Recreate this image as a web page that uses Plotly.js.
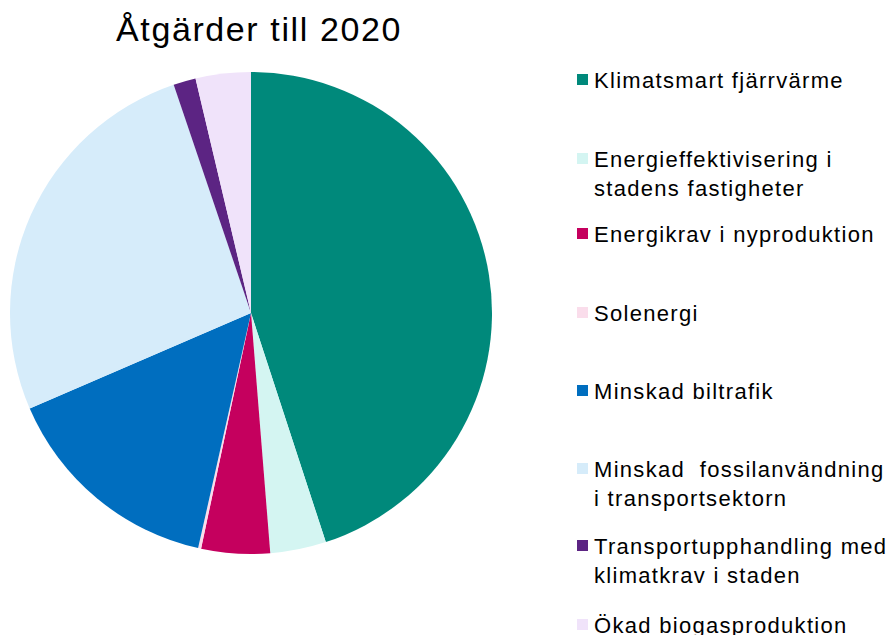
<!DOCTYPE html>
<html>
<head>
<meta charset="utf-8">
<script src="https://cdn.plot.ly/plotly-3.0.1.min.js"></script>
<style>
html,body{margin:0;padding:0;background:#fff;}
#chart{width:893px;height:635px;}
text.annotation-text{letter-spacing:1.3px;}
text.gtitle{letter-spacing:1.6px;}
</style>
</head>
<body>
<div id="chart"></div>
<script>
const categories = [
  "Klimatsmart fjärrvärme",
  "Energieffektivisering i<br>stadens fastigheter",
  "Energikrav i nyproduktion",
  "Solenergi",
  "Minskad biltrafik",
  "Minskad  fossilanvändning<br>i transportsektorn",
  "Transportupphandling med<br>klimatkrav i staden",
  "Ökad biogasproduktion"
];
const values = [45.0, 3.75, 4.6, 0.2, 15.0, 26.3, 1.5, 3.7];
const colors = ["#00897B", "#D4F5F2", "#C5005E", "#FADDEB", "#006EBF", "#D6ECFA", "#5C2483", "#F0E3FA"];
const titleText = "Åtgärder till 2020";

const W = 893, H = 635;
// legend baselines (px from top) for first line of each item
const legendBaselines = [88, 167, 242, 321, 399, 477, 554, 633];

const fontFam = "Liberation Sans, Arial, sans-serif";
const annotations = [];
const shapes = [];
const fs = 22;
categories.forEach((c, i) => {
  const base = legendBaselines[i];
  const capTop = base - 15;
  shapes.push({
    type: "rect", xref: "paper", yref: "paper",
    x0: 577 / W, x1: 588 / W,
    y0: 1 - (capTop + 12) / H, y1: 1 - (capTop + 1) / H,
    fillcolor: colors[i], line: {width: 0}
  });
  annotations.push({
    xref: "paper", yref: "paper",
    x: 593 / W, y: 1 - (base - 21) / H,
    xanchor: "left", yanchor: "top",
    align: "left", showarrow: false,
    text: c, borderpad: 0,
    font: {family: fontFam, size: fs, color: "#000"}
  });
});

const data = [{
  type: "pie",
  labels: categories,
  values: values,
  marker: {colors: colors, line: {width: 0}},
  sort: false,
  direction: "clockwise",
  rotation: 0,
  textinfo: "none",
  hoverinfo: "label+value",
  showlegend: false,
  domain: {x: [10 / W, 492 / W], y: [1 - 554 / H, 1 - 72 / H]}
}];

const layout = {
  width: W, height: H,
  margin: {l: 0, r: 0, t: 0, b: 0},
  paper_bgcolor: "#fff",
  showlegend: false,
  title: {
    text: titleText,
    x: 259 / W, xanchor: "center",
    y: 1 - 29 / H, yanchor: "middle",
    font: {family: fontFam, size: 34, color: "#000"}
  },
  annotations: annotations,
  shapes: shapes
};

Plotly.newPlot("chart", data, layout, {displayModeBar: false, staticPlot: true});
</script>
</body>
</html>
